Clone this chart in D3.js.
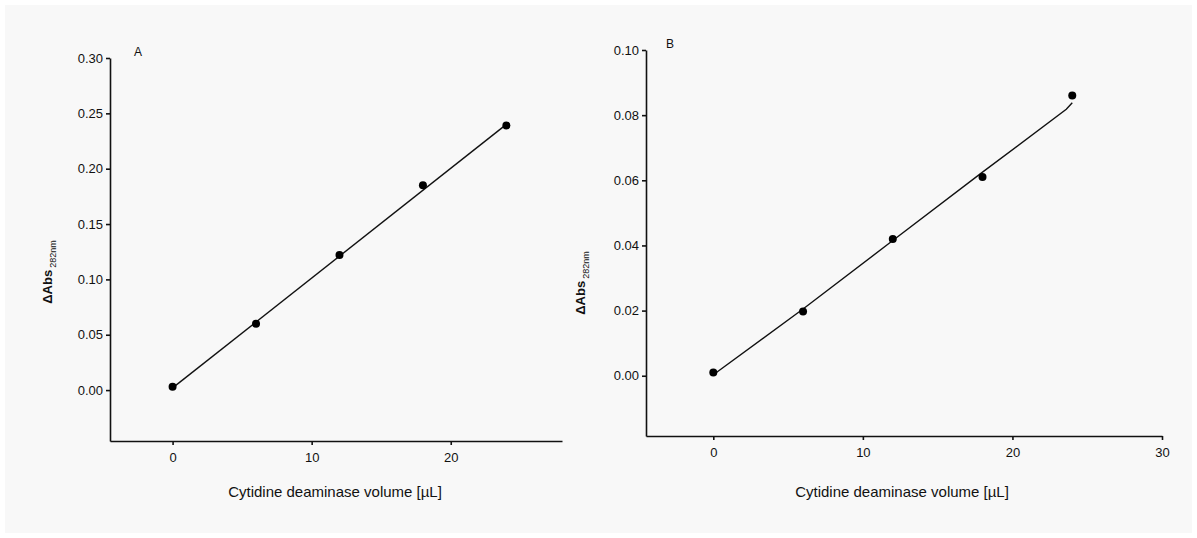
<!DOCTYPE html>
<html>
<head>
<meta charset="utf-8">
<script src="https://cdn.jsdelivr.net/npm/d3@7"></script>
<style>
  body { margin: 0; background: #ffffff; }
  svg { display: block; font-family: "Liberation Sans", Arial, sans-serif; }
  .axis path, .axis line { stroke: #111; stroke-width: 1.6; }
  .axis text { font-size: 13px; fill: #111; }
</style>
</head>
<body>
<svg id="chart" width="1197" height="538"></svg>
<script>
// panel A data
const volumeA = [0, 6, 12, 18, 24];
const absA = [0.003, 0.060, 0.122, 0.185, 0.239];
const fitXA = [0, 24];
const fitYA = [0.002, 0.240];
const yTicksA = [0.00, 0.05, 0.10, 0.15, 0.20, 0.25, 0.30];
const xTicksA = [0, 10, 20];

// panel B data
const volumeB = [0, 6, 12, 18, 24];
const absB = [0.001, 0.0197, 0.042, 0.061, 0.086];
const fitXB = [0, 6, 12, 18, 23.6, 24];
const fitYB = [0.0003, 0.0205, 0.0415, 0.0625, 0.0818, 0.0838];
const yTicksB = [0.00, 0.02, 0.04, 0.06, 0.08, 0.10];
const xTicksB = [0, 10, 20, 30];

const xTitle = "Cytidine deaminase volume [µL]";

const svg = d3.select("#chart");

svg.append("rect")
  .attr("x", 5).attr("y", 5)
  .attr("width", 1187).attr("height", 528)
  .attr("fill", "#f8f8f8");

function drawPanel(opt) {
  const g = svg.append("g");

  const x = d3.scaleLinear().domain(opt.xDomain).range([opt.left, opt.right]);
  const y = d3.scaleLinear().domain(opt.yDomain).range([opt.bottom, opt.top]);

  g.append("g")
    .attr("class", "axis")
    .attr("transform", `translate(${opt.left},0)`)
    .call(d3.axisLeft(y).tickValues(opt.yTicks).tickSize(4).tickSizeOuter(0)
      .tickFormat(d3.format(".2f")));

  g.append("g")
    .attr("class", "axis")
    .attr("transform", `translate(0,${opt.bottom})`)
    .call(d3.axisBottom(x).tickValues(opt.xTicks).tickSize(4).tickSizeOuter(0)
      .tickPadding(8).tickFormat(d3.format("d")));

  g.selectAll(".axis .domain").attr("stroke-width", 2);

  // fitted line
  const fit = opt.fitX.map((v, i) => [v, opt.fitY[i]]);
  g.append("path")
    .datum(fit)
    .attr("fill", "none")
    .attr("stroke", "#111")
    .attr("stroke-width", 1.4)
    .attr("d", d3.line().x(d => x(d[0])).y(d => y(d[1])));

  // points
  g.selectAll(".pt")
    .data(opt.xs.map((v, i) => [v, opt.ys[i]]))
    .enter().append("circle")
      .attr("cx", d => x(d[0]))
      .attr("cy", d => y(d[1]))
      .attr("r", 4)
      .attr("fill", "#000");

  // panel letter
  g.append("text")
    .attr("x", opt.left + opt.letterDx)
    .attr("y", opt.top - 2)
    .attr("font-size", 12)
    .attr("fill", "#111")
    .text(opt.letter);

  // x title
  g.append("text")
    .attr("x", opt.titleX)
    .attr("y", 497)
    .attr("text-anchor", "middle")
    .attr("font-size", 15)
    .attr("fill", "#111")
    .text(xTitle);

  // y title
  const yt = g.append("text")
    .attr("transform", `translate(${opt.yTitleX},${opt.yTitleY}) rotate(-90)`)
    .attr("text-anchor", "middle")
    .attr("font-size", 13)
    .attr("font-weight", "bold")
    .attr("fill", "#111");
  yt.append("tspan").text("ΔAbs");
  yt.append("tspan").attr("font-size", 9).attr("font-weight", "normal")
    .attr("dy", 4).attr("dx", 2).text("282nm");
}

drawPanel({
  xs: volumeA, ys: absA, fitX: fitXA, fitY: fitYA,
  yTicks: yTicksA, xTicks: xTicksA,
  xDomain: [-4.5, 28], yDomain: [-0.046, 0.30],
  left: 110, right: 562, top: 58, bottom: 441,
  letter: "A", letterDx: 24, titleX: 335, yTitleX: 52, yTitleY: 272
});

drawPanel({
  xs: volumeB, ys: absB, fitX: fitXB, fitY: fitYB,
  yTicks: yTicksB, xTicks: xTicksB,
  xDomain: [-4.5, 30], yDomain: [-0.0185, 0.10],
  left: 646, right: 1162, top: 50, bottom: 436,
  letter: "B", letterDx: 20, titleX: 902, yTitleX: 585, yTitleY: 283
});
</script>
</body>
</html>
